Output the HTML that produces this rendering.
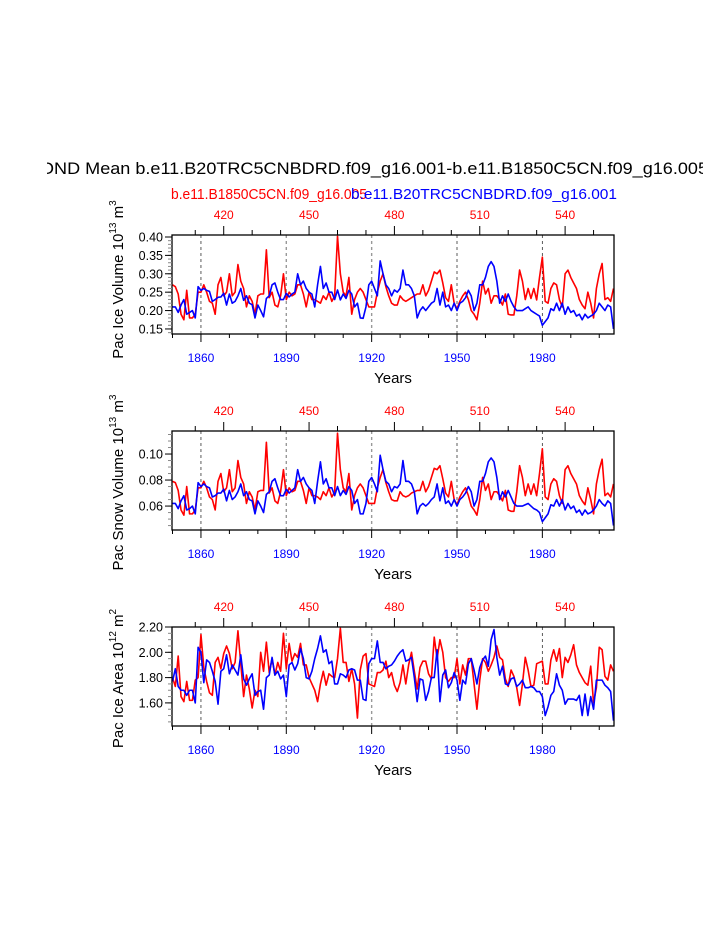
<!DOCTYPE html>
<html><head><meta charset="utf-8"><style>
html,body{margin:0;padding:0;background:#fff;}
svg{display:block;font-family:"Liberation Sans",Arial,sans-serif;}
</style></head>
<body>
<svg id="chart" width="723" height="935" viewBox="0 0 723 935" xmlns="http://www.w3.org/2000/svg">
<defs><clipPath id="tclip"><rect x="47" y="140" width="656" height="50"/></clipPath></defs>
<text clip-path="url(#tclip)" x="40" y="174" font-size="17" textLength="668" lengthAdjust="spacingAndGlyphs">OND Mean b.e11.B20TRC5CNBDRD.f09_g16.001-b.e11.B1850C5CN.f09_g16.005</text>
<text x="171" y="199" font-size="15" fill="#ff0000" textLength="196" lengthAdjust="spacingAndGlyphs">b.e11.B1850C5CN.f09_g16.005</text>
<text x="351" y="199" font-size="15" fill="#0000ff" textLength="266" lengthAdjust="spacingAndGlyphs">b.e11.B20TRC5CNBDRD.f09_g16.001</text>
</svg>
<script>
const years = [];
for (let y = 1850; y <= 2005; y++) years.push(y);
const bottomTicks = [1860, 1890, 1920, 1950, 1980];
const topTicks = [420, 450, 480, 510, 540];

const iceVolBlue = [0.21,0.21,0.195,0.215,0.23,0.19,0.195,0.20,0.18,0.265,
0.255,0.26,0.255,0.252,0.225,0.23,0.236,0.237,0.247,0.215,
0.245,0.22,0.225,0.24,0.26,0.228,0.24,0.22,0.216,0.18,
0.215,0.20,0.183,0.233,0.24,0.27,0.275,0.25,0.23,0.23,
0.247,0.237,0.245,0.25,0.30,0.27,0.28,0.26,0.25,0.245,
0.21,0.27,0.32,0.26,0.275,0.25,0.25,0.23,0.256,0.229,
0.245,0.233,0.255,0.245,0.21,0.22,0.18,0.179,0.21,0.27,
0.28,0.26,0.24,0.335,0.30,0.27,0.26,0.24,0.256,0.25,
0.26,0.31,0.27,0.27,0.26,0.24,0.18,0.20,0.21,0.20,
0.21,0.22,0.225,0.26,0.215,0.25,0.21,0.215,0.20,0.22,
0.20,0.22,0.225,0.235,0.255,0.24,0.20,0.22,0.27,0.27,
0.29,0.32,0.333,0.32,0.28,0.22,0.24,0.225,0.245,0.225,
0.21,0.20,0.20,0.20,0.205,0.21,0.20,0.195,0.19,0.185,
0.16,0.17,0.18,0.205,0.20,0.22,0.20,0.22,0.19,0.21,
0.195,0.20,0.185,0.19,0.175,0.19,0.18,0.185,0.19,0.20,
0.22,0.21,0.20,0.215,0.21,0.15];
const iceVolRed = [0.27,0.265,0.245,0.19,0.175,0.255,0.18,0.18,0.19,0.25,
0.25,0.27,0.25,0.225,0.22,0.19,0.27,0.29,0.24,0.25,
0.30,0.24,0.25,0.325,0.28,0.26,0.21,0.24,0.225,0.19,
0.24,0.245,0.245,0.365,0.235,0.25,0.215,0.21,0.24,0.30,
0.23,0.25,0.24,0.245,0.27,0.27,0.245,0.21,0.25,0.23,
0.23,0.225,0.22,0.24,0.23,0.25,0.225,0.24,0.402,0.30,
0.25,0.24,0.29,0.19,0.23,0.25,0.26,0.25,0.23,0.21,
0.21,0.21,0.25,0.28,0.30,0.265,0.24,0.22,0.215,0.215,
0.24,0.23,0.225,0.23,0.235,0.24,0.245,0.245,0.27,0.24,
0.255,0.28,0.305,0.30,0.31,0.275,0.235,0.225,0.27,0.22,
0.205,0.225,0.24,0.25,0.23,0.20,0.19,0.175,0.22,0.28,
0.245,0.26,0.22,0.24,0.24,0.23,0.215,0.245,0.19,0.188,
0.188,0.24,0.31,0.28,0.23,0.26,0.233,0.26,0.229,0.29,
0.345,0.225,0.22,0.26,0.275,0.27,0.23,0.21,0.30,0.31,
0.29,0.275,0.26,0.23,0.215,0.205,0.25,0.22,0.18,0.26,
0.30,0.328,0.23,0.235,0.225,0.26];

const snowVolBlue = [0.062,0.062,0.058,0.064,0.068,0.057,0.058,0.060,0.054,0.078,
0.075,0.077,0.075,0.074,0.067,0.068,0.070,0.070,0.073,0.064,
0.072,0.065,0.067,0.071,0.077,0.068,0.071,0.065,0.064,0.054,
0.064,0.060,0.055,0.069,0.071,0.079,0.081,0.074,0.068,0.068,
0.073,0.070,0.072,0.074,0.088,0.079,0.082,0.077,0.074,0.072,
0.062,0.079,0.094,0.077,0.081,0.074,0.074,0.068,0.075,0.068,
0.072,0.069,0.075,0.072,0.062,0.065,0.054,0.054,0.062,0.079,
0.082,0.077,0.071,0.099,0.088,0.079,0.077,0.071,0.075,0.074,
0.077,0.095,0.079,0.079,0.077,0.071,0.054,0.060,0.062,0.060,
0.062,0.065,0.067,0.077,0.064,0.074,0.062,0.064,0.060,0.065,
0.060,0.065,0.067,0.070,0.075,0.071,0.060,0.065,0.079,0.079,
0.085,0.094,0.097,0.094,0.082,0.065,0.071,0.067,0.072,0.067,
0.062,0.060,0.060,0.060,0.061,0.062,0.060,0.058,0.057,0.055,
0.048,0.051,0.054,0.061,0.060,0.065,0.060,0.065,0.057,0.062,
0.058,0.060,0.055,0.057,0.053,0.057,0.054,0.055,0.057,0.060,
0.065,0.062,0.060,0.064,0.062,0.045];
const snowVolRed = [0.079,0.078,0.072,0.057,0.053,0.075,0.054,0.054,0.057,0.074,
0.074,0.079,0.074,0.067,0.065,0.057,0.079,0.085,0.071,0.074,
0.088,0.071,0.074,0.095,0.082,0.077,0.062,0.071,0.067,0.057,
0.071,0.072,0.072,0.109,0.070,0.074,0.064,0.062,0.071,0.088,
0.068,0.074,0.071,0.072,0.079,0.079,0.072,0.062,0.074,0.068,
0.068,0.067,0.065,0.071,0.068,0.074,0.067,0.071,0.116,0.088,
0.074,0.071,0.085,0.057,0.068,0.074,0.077,0.074,0.068,0.062,
0.062,0.062,0.074,0.082,0.088,0.078,0.071,0.065,0.064,0.064,
0.071,0.068,0.067,0.068,0.070,0.071,0.072,0.072,0.079,0.071,
0.075,0.082,0.089,0.088,0.091,0.081,0.070,0.067,0.079,0.065,
0.061,0.067,0.071,0.074,0.068,0.060,0.057,0.053,0.065,0.082,
0.072,0.077,0.065,0.071,0.071,0.068,0.064,0.072,0.057,0.056,
0.056,0.071,0.091,0.082,0.068,0.077,0.069,0.077,0.068,0.085,
0.104,0.067,0.065,0.077,0.081,0.079,0.068,0.062,0.088,0.091,
0.085,0.081,0.077,0.068,0.064,0.061,0.074,0.065,0.054,0.077,
0.088,0.096,0.068,0.070,0.067,0.077];

const iceAreaBlue = [1.77,1.87,1.73,1.70,1.70,1.66,1.70,1.70,1.60,2.04,
2.00,1.76,1.94,1.92,1.85,1.77,1.59,1.85,1.87,1.98,
1.83,1.90,1.86,1.82,1.98,1.79,1.74,1.79,1.83,1.66,
1.69,1.70,1.55,1.80,1.82,1.96,1.82,1.85,1.79,1.82,
1.65,1.90,1.92,1.86,1.91,2.03,1.95,1.80,1.79,1.85,
1.95,2.03,2.13,2.00,2.02,1.91,1.93,1.75,1.75,1.83,
1.82,1.80,1.86,1.87,1.86,1.78,1.78,1.63,1.62,1.91,
1.95,1.95,2.09,1.92,1.92,1.87,1.89,1.90,1.93,1.97,
2.00,2.02,1.93,1.94,1.96,1.80,1.61,1.79,1.78,1.62,
1.69,1.80,1.80,2.02,1.61,1.82,1.86,1.72,1.76,1.84,
1.78,1.62,1.78,1.75,1.91,1.95,1.86,1.75,1.88,1.94,
1.97,1.89,2.10,2.18,1.96,1.82,1.89,1.75,1.74,1.79,
1.80,1.73,1.75,1.78,1.72,1.72,1.73,1.72,1.69,1.69,
1.65,1.50,1.57,1.66,1.69,1.83,1.74,1.70,1.59,1.63,
1.63,1.63,1.62,1.66,1.50,1.67,1.50,1.65,1.55,1.78,
1.78,1.78,1.74,1.72,1.69,1.46];
const iceAreaRed = [1.80,1.73,1.97,1.65,1.61,1.77,1.62,1.62,1.78,1.80,
2.14,1.88,1.77,1.68,1.66,1.92,1.96,1.87,1.99,2.05,
1.99,1.87,1.92,2.17,1.91,1.65,1.82,1.71,1.56,1.70,
1.65,2.00,1.85,2.08,1.84,1.95,1.82,1.92,1.85,2.15,
1.87,2.07,1.93,1.99,1.96,2.07,1.90,1.90,1.80,1.75,
1.70,1.61,1.75,1.85,1.74,1.83,1.81,1.80,1.95,2.19,
1.92,1.92,1.77,1.87,1.75,1.48,1.86,1.97,1.99,1.75,
1.74,1.73,1.84,1.84,1.86,1.93,1.80,1.84,1.74,1.69,
1.76,1.90,1.75,1.90,2.00,1.85,1.71,1.88,1.93,1.93,
1.83,1.79,2.12,1.95,2.10,2.00,1.80,1.77,1.80,1.80,
1.95,1.75,1.90,1.82,1.95,1.95,1.75,1.55,1.78,1.95,
1.92,1.85,1.90,1.96,2.05,1.96,1.94,1.79,1.73,1.86,
1.81,1.72,1.58,1.75,1.96,1.86,1.73,1.74,1.91,1.92,
1.93,1.75,1.75,1.94,2.02,1.93,2.03,1.80,1.96,1.92,
1.98,2.06,1.90,1.84,1.80,1.76,1.74,1.89,1.60,1.72,
2.04,2.02,1.81,1.78,1.90,1.85];

const p1Ticks = [0.15,0.20,0.25,0.30,0.35,0.40];
const p1Labels = ["0.15","0.20","0.25","0.30","0.35","0.40"];
const p2Ticks = [0.06,0.08,0.10];
const p2Labels = ["0.06","0.08","0.10"];
const p3Ticks = [1.60,1.80,2.00,2.20];
const p3Labels = ["1.60","1.80","2.00","2.20"];

const NS = "http://www.w3.org/2000/svg";
const svg = document.getElementById("chart");
const X0 = 172.5, PXY = 2.845, LEFT = 172, RIGHT = 614;
function xYear(y){ return X0 + (y - 1850) * PXY; }
function xRed(r){ return xYear(r + 1448); }
function mk(tag, attrs, parent){
  const e = document.createElementNS(NS, tag);
  for (const k in attrs) e.setAttribute(k, attrs[k]);
  (parent || svg).appendChild(e);
  return e;
}
function panel(cfg){
  const g = mk("g", {});
  
  
  const yv = v => cfg.top + (cfg.ymax - v) / (cfg.ymax - cfg.ymin) * (cfg.bot - cfg.top);
  // dashed reference lines
  bottomTicks.forEach(t => {
    const l = mk("line", {x1:xYear(t), x2:xYear(t), y1:cfg.top, y2:cfg.bot,
      stroke:(t===1890||t===1920)?"#999":"#333", "stroke-width":(t===1890||t===1920)?1.4:0.8, "stroke-dasharray":"3,3"}, g);
    
    
  });
  // series
  [[cfg.red,"#ff0000","red"],[cfg.blue,"#0000ff","blue"]].forEach(([arr,col,nm]) => {
    const pts = arr.map((v,i) => xYear(years[i]).toFixed(2) + "," + yv(v).toFixed(2)).join(" ");
    const pl = mk("polyline", {points:pts, fill:"none", stroke:col, "stroke-width":1.6, "stroke-linejoin":"round"}, g);
    
    
  });
  // mask overflow: redraw white outside? frame
  const fr = mk("rect", {x:LEFT, y:cfg.top, width:RIGHT-LEFT, height:cfg.bot-cfg.top, fill:"none", stroke:"#000", "stroke-width":1.3}, g);
  
  
  // bottom ticks (every 10 years)
  for (let y = 1850; y <= 2005; y += 10){
    const maj = (y - 1860) % 30 === 0;
    mk("line", {x1:xYear(y), x2:xYear(y), y1:cfg.bot, y2:cfg.bot + (maj?8:4), stroke:"#000", "stroke-width":1}, g);
  }
  bottomTicks.forEach(t => {
    const tx = mk("text", {x:xYear(t), y:cfg.bot + 28, "font-size":12, fill:"#0000ff", "text-anchor":"middle"}, g);
    tx.textContent = t;
    
    
  });
  // top ticks
  for (let r = 410; r <= 550; r += 10){
    const maj = (r - 420) % 30 === 0;
    mk("line", {x1:xRed(r), x2:xRed(r), y1:cfg.top, y2:cfg.top - (maj?9:5), stroke:"#000", "stroke-width":1}, g);
  }
  topTicks.forEach(t => {
    const tx = mk("text", {x:xRed(t), y:cfg.top - 16, "font-size":12, fill:"#ff0000", "text-anchor":"middle"}, g);
    tx.textContent = t;
    
    
  });
  // left ticks
  for (let v = cfg.minorStart; v <= cfg.ymax + 1e-9; v += cfg.minorStep){
    const y = yv(v);
    if (y < cfg.top - 0.5 || y > cfg.bot + 0.5) continue;
    mk("line", {x1:LEFT - 4, x2:LEFT, y1:y, y2:y, stroke:"#888", "stroke-width":1}, g);
  }
  cfg.ticks.forEach((v,i) => {
    const y = yv(v);
    mk("line", {x1:LEFT - 7, x2:LEFT, y1:y, y2:y, stroke:"#000", "stroke-width":1}, g);
    const tx = mk("text", {x:LEFT - 9, y:y + 4.5, "font-size":12.5, "text-anchor":"end"}, g);
    tx.textContent = cfg.labels[i];
    
    
  });
  // x axis title
  const xt = mk("text", {x:393, y:cfg.bot + 49, "font-size":15, "text-anchor":"middle"}, g);
  xt.textContent = "Years";
  
  
  // y axis title
  const cy = (cfg.top + cfg.bot) / 2 + cfg.tyOff;
  const yt = mk("text", {x:0, y:0, "font-size":15, "text-anchor":"middle", transform:"translate(123," + cy + ") rotate(-90)"}, g);
  
  
  const parts = [[cfg.ytitle," "],["10",""],[cfg.exp,"sup"],[" m",""],[cfg.unitExp,"sup"]];
  parts.forEach(([t,s]) => {
    const ts = mk("tspan", {}, yt);
    if (s === "sup") { ts.setAttribute("dy","-7"); ts.setAttribute("font-size","10"); }
    else if (s === "" && t !== "10") { ts.setAttribute("dy","7"); }
    ts.textContent = t + (s === " " ? " " : "");
  });
}
panel({name:"ice-volume-panel", top:235, bot:334, ymin:0.1363, ymax:0.4054, blue:iceVolBlue, red:iceVolRed,
  ticks:p1Ticks, labels:p1Labels, minorStart:0.14, minorStep:0.01, ytitle:"Pac Ice Volume", exp:"13", unitExp:"3", tyOff:-5});
panel({name:"snow-volume-panel", top:431, bot:530, ymin:0.0416, ymax:0.1177, blue:snowVolBlue, red:snowVolRed,
  ticks:p2Ticks, labels:p2Labels, minorStart:0.045, minorStep:0.005, ytitle:"Pac Snow Volume", exp:"13", unitExp:"3", tyOff:2});
panel({name:"ice-area-panel", top:627, bot:726, ymin:1.4174, ymax:2.2, blue:iceAreaBlue, red:iceAreaRed,
  ticks:p3Ticks, labels:p3Labels, minorStart:1.45, minorStep:0.05, ytitle:"Pac Ice Area", exp:"12", unitExp:"2", tyOff:2});
</script>
</body></html>
